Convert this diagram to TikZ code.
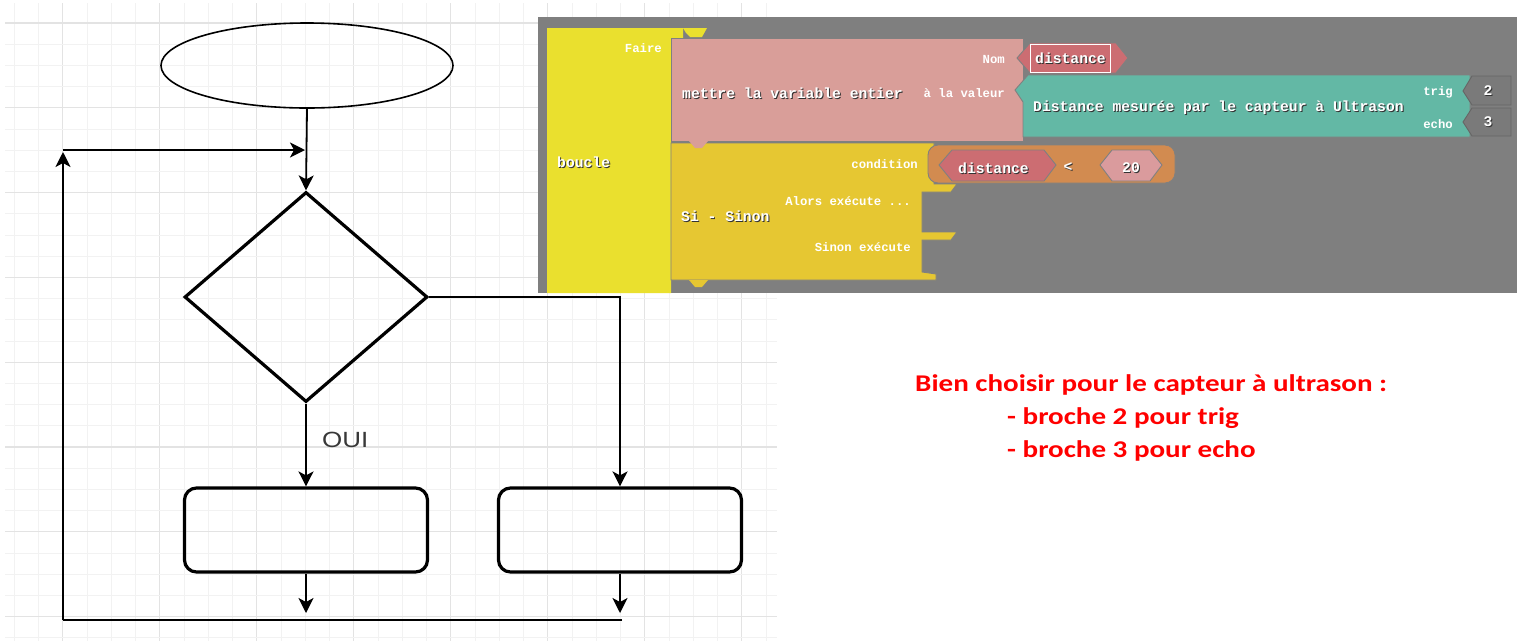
\documentclass[tikz,border=0pt]{standalone}
\usepackage{fontspec}
\setmainfont{Liberation Sans}
\newfontfamily\blkfont{Liberation Mono}
\newfontfamily\calfont{Carlito}
\usetikzlibrary{shapes.geometric,arrows.meta,calc}
\definecolor{gbg}{HTML}{7F7F7F}
\definecolor{yel}{HTML}{EAE02E}
\definecolor{yeltwo}{HTML}{E6C732}
\definecolor{pinkb}{HTML}{D99E99}
\definecolor{redv}{HTML}{CC6D72}
\definecolor{tealb}{HTML}{63B8A5}
\definecolor{grayv}{HTML}{7A7A7A}
\definecolor{orng}{HTML}{D28B50}
\definecolor{pinktw}{HTML}{DA9B9D}
\definecolor{redtxt}{HTML}{FF0000}
\definecolor{gridmin}{HTML}{F2F2F2}
\definecolor{gridmaj}{HTML}{E3E3E3}
\newcommand\bigf{\blkfont\bfseries\fontsize{14.7}{16}\selectfont}
\newcommand\smf{\blkfont\bfseries\fontsize{12.3}{14}\selectfont}
\newcommand\btext[4]{%
  \node[inner sep=0,#2,text=black!80] (#3s) at ($(#1)+(1,1)$) {#4};
  \node[inner sep=0,#2,text=white] (#3) at (#1) {#4};}
\newcommand\stext[4]{%
  \node[inner sep=0,#2,text=white] (#3) at (#1) {#4};}
\begin{document}
\begin{tikzpicture}[x=1pt,y=-1pt,
  conn/.style={line width=1.8pt,-{Stealth[length=15pt,width=15pt,inset=4pt]}},
  plain/.style={line width=1.8pt},
  boxs/.style={draw,line width=3.2pt,rounded corners=12pt,minimum width=243pt,minimum height=84pt,inner sep=0},
  blkline/.style={draw=black!50,line width=0.9pt},
  note/.style={anchor=base west,inner sep=0,text=redtxt,font=\calfont\bfseries\fontsize{24}{28}\selectfont}]
\useasboundingbox (0,0) rectangle (1523,641);
\fill[white] (0,0) rectangle (1523,641);
% grid
\foreach \i in {0,...,31}{
  \pgfmathsetmacro\xx{14.2+24.25*\i}
  \pgfmathtruncatemacro\mm{mod(\i,4)}
  \ifnum\mm=2
    \draw[gridmaj,line width=1.1pt] (\xx,3) -- (\xx,641);
  \else
    \draw[gridmin,line width=0.8pt] (\xx,3) -- (\xx,641);
  \fi}
\foreach \j in {1,...,30}{
  \pgfmathsetmacro\yy{1.8+21.2*\j}
  \pgfmathtruncatemacro\mm{mod(\j,4)}
  \ifnum\mm=1
    \draw[gridmaj,line width=1.1pt] (5,\yy) -- (777,\yy);
  \else
    \draw[gridmin,line width=0.8pt] (5,\yy) -- (777,\yy);
  \fi}
% flowchart
\node[ellipse,draw,line width=1.6pt,minimum width=292pt,minimum height=85pt,inner sep=0] (start) at (307,65.5) {};
\node[diamond,draw,line width=3.2pt,minimum width=243pt,minimum height=210pt,inner sep=0] (dec) at (306,297) {};
\node[boxs] (box1) at (306,530) {};
\node[boxs] (box2) at (620,530) {};
\coordinate (join) at (307,150);
\coordinate (loopTL) at (63,150);
\coordinate (loopBL) at (63,620);
\coordinate (loopBR) at (622,620);
\coordinate (e1) at (306,613);
\coordinate (e2) at (620,613);
\draw[conn] (start.south) -- (dec.north);
\draw[conn] (loopTL) -- ($(join)+(-2,0)$);
\draw[plain] (loopBR) -- (loopBL);
\draw[conn] (loopBL) -- ($(loopTL)+(0,2)$);
\draw[conn] (dec.south) -- (box1.north);
\node[anchor=west,inner sep=0,text=black!78,font=\fontsize{22}{24}\selectfont] (oui) at (322,440) {\scalebox{1.18}[1]{OUI}};
\draw[conn] (dec.east) -| (box2.north);
\draw[conn] (box1.south) -- (e1);
\draw[conn] (box2.south) -- (e2);
% blockly screenshot
\fill[gbg] (538,17) rectangle (1517,293);
\fill[yel] (547,28) -- (683,28) -- (683,38) -- (671,38) -- (671,293) -- (547,293) -- cycle;
\filldraw[fill=pinkb,blkline] (671,38) -- (1023,38) -- (1023,141) -- (671,141) -- cycle;
\fill[yel] (683,28) -- (707,28) -- (702,37) -- (690,37) -- (686,33) -- cycle;
\filldraw[fill=yeltwo,blkline] (671,143) -- (934,143) -- (934,184) -- (957,184) -- (951,192) -- (922,192) -- (922,232) -- (957,232) -- (951,240) -- (922,240) -- (922,272) -- (936,274) -- (936,280) -- (671,280) -- cycle;
\fill[pinkb] (689,141) -- (708,141) -- (702,148) -- (695,148) -- cycle;
\fill[yeltwo] (689,280) -- (708,280) -- (702,287) -- (695,287) -- cycle;
% value name field
\filldraw[fill=redv,blkline] (1017,58) -- (1030,43) -- (1116,43) -- (1128,58) -- (1116,73) -- (1030,73) -- cycle;
\draw[white,line width=0.9pt] (1030,44.5) rectangle (1110,72.5);
% teal block
\filldraw[fill=tealb,blkline] (1028,75) -- (1470,75) -- (1470,137) -- (1023,137) -- (1023,102) -- (1015,90) -- cycle;
\filldraw[fill=grayv,draw=black!60,line width=0.9pt] (1463,91) -- (1472,76) -- (1511,76) -- (1511,105) -- (1472,105) -- cycle;
\filldraw[fill=grayv,draw=black!60,line width=0.9pt] (1463,122) -- (1472,108) -- (1511,108) -- (1511,136) -- (1472,136) -- cycle;
% compare block
\filldraw[fill=orng,blkline,rounded corners=10pt] (928,145) rectangle (1175,183);
\filldraw[fill=redv,blkline] (939,165) -- (952,150) -- (1044,150) -- (1056,165) -- (1044,181) -- (952,181) -- cycle;
\filldraw[fill=pinktw,blkline] (1100,165) -- (1112,150) -- (1150,150) -- (1162,165) -- (1150,181) -- (1112,181) -- cycle;
% block texts
\btext{682,93}{anchor=west,font=\bigf}{tmettre}{mettre la variable entier}
\btext{1035,58}{anchor=west,font=\bigf}{tdist}{distance}
\btext{1033,108}{anchor=west,font=\bigf}{tdm}{Distance mesurée par le capteur à Ultrason}
\btext{1488,91}{font=\bigf}{tdeux}{2}
\btext{1488,122}{font=\bigf}{ttrois}{3}
\btext{557,162}{anchor=west,font=\bigf}{tboucle}{boucle}
\btext{681,216}{anchor=west,font=\bigf}{tsi}{Si - Sinon}
\btext{958,168}{anchor=west,font=\bigf}{tdistb}{distance}
\btext{1068,167}{font=\bigf}{tlt}{<}
\btext{1131,168}{font=\bigf}{tvingt}{20}
\stext{662,48}{anchor=east,font=\smf}{tfaire}{Faire}
\stext{1005,60}{anchor=east,font=\smf}{tnom}{Nom}
\stext{1005,93}{anchor=east,font=\smf}{tval}{à la valeur}
\stext{1453,92}{anchor=east,font=\smf}{ttrig}{trig}
\stext{1453,124}{anchor=east,font=\smf}{techo}{echo}
\stext{918,164}{anchor=east,font=\smf}{tcond}{condition}
\stext{911,201}{anchor=east,font=\smf}{talors}{Alors exécute ...}
\stext{911,247}{anchor=east,font=\smf}{tsinon}{Sinon exécute}
% red notes
\node[note] (r1) at (915,391) {\scalebox{1.21}[1]{Bien choisir pour le capteur à ultrason :}};
\node[note] (r2) at (1007,424) {\scalebox{1.21}[1]{- broche 2 pour trig}};
\node[note] (r3) at (1007,457) {\scalebox{1.21}[1]{- broche 3 pour echo}};
\end{tikzpicture}
\end{document}
